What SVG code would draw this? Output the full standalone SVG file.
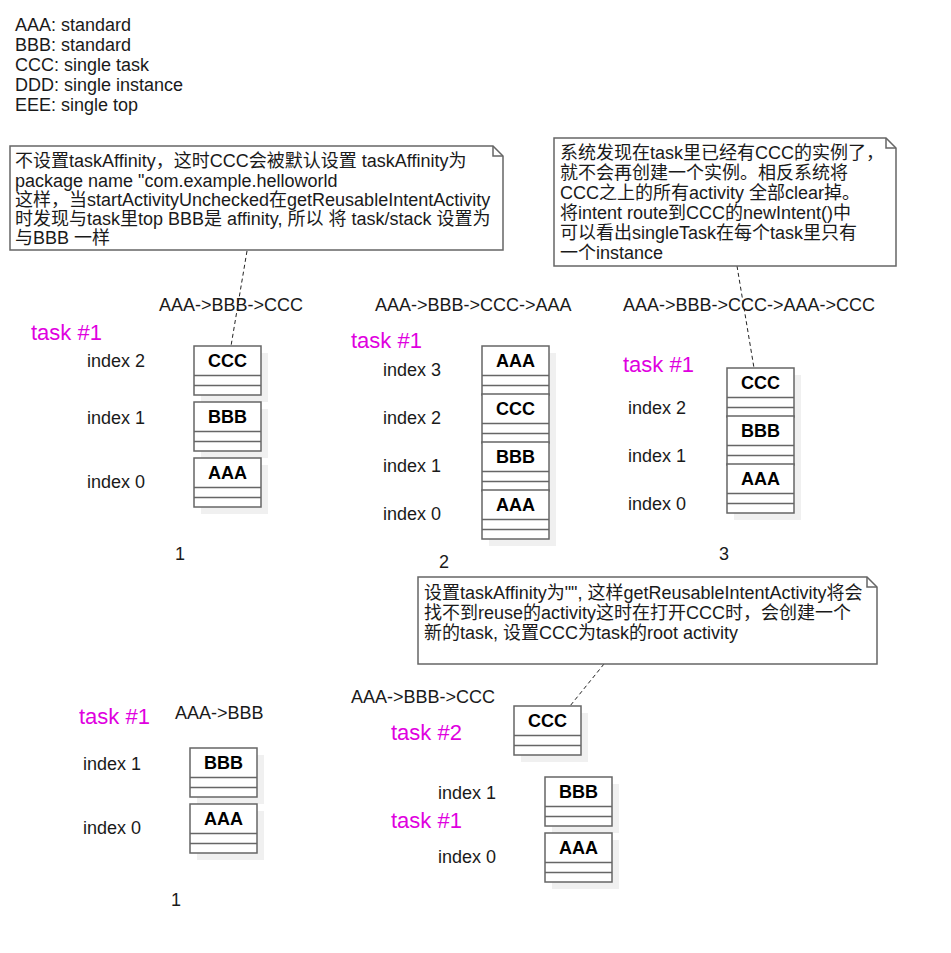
<svg xmlns="http://www.w3.org/2000/svg" width="951" height="953" viewBox="0 0 951 953">
<style>
text{font-family:"Liberation Sans",Arial,"Noto Sans CJK SC",sans-serif;font-size:18px;fill:#1a1a1a}
.task{font-size:22px;fill:#e000e0}
.name{font-weight:bold;text-anchor:middle;fill:#000}
.sh{fill:#f0f0f0;stroke:none}
.box{fill:#fff;stroke:#666;stroke-width:1.5}
.sep{stroke:#666;stroke-width:1.5;fill:none}
.note{fill:#fff;stroke:#666;stroke-width:1.5}
.link{stroke:#222;stroke-width:1;stroke-dasharray:4 3;fill:none}
</style>
<defs>
<g id="cls">
<rect class="box" x="0" y="0" width="67" height="49"/>
<path class="sep" d="M0,29.5H67M0,39.5H67"/>
</g>
</defs>
<rect width="951" height="953" fill="#fff"/>

<g id="legend">
<text x="15" y="31">AAA: standard</text>
<text x="15" y="51">BBB: standard</text>
<text x="15" y="71">CCC: single task</text>
<text x="15" y="91">DDD: single instance</text>
<text x="15" y="111">EEE: single top</text>
</g>

<g id="shadows">
<rect class="sh" x="201" y="353" width="67" height="49"/>
<rect class="sh" x="201" y="409" width="67" height="49"/>
<rect class="sh" x="201" y="465" width="67" height="49"/>
<rect class="sh" x="489" y="353" width="67" height="193"/>
<rect class="sh" x="734" y="375" width="67" height="145"/>
<rect class="sh" x="197" y="755" width="67" height="49"/>
<rect class="sh" x="197" y="811" width="67" height="49"/>
<rect class="sh" x="521" y="713" width="67" height="49"/>
<rect class="sh" x="552" y="784" width="67" height="49"/>
<rect class="sh" x="552" y="840" width="67" height="49"/>
</g>

<g id="connectors">
<path class="link" d="M247,251L231,346"/>
<path class="link" d="M737,266L754,368"/>
<path class="link" d="M604,664L570,706"/>
</g>

<g id="note1">
<path class="note" d="M10,146H493L503,156V250H10Z"/>
<path class="sep" d="M493,146V156H503"/>
<text x="15" y="167">不设置taskAffinity，这时CCC会被默认设置 taskAffinity为</text>
<text x="15" y="187">package name "com.example.helloworld</text>
<text x="15" y="206">这样，当startActivityUnchecked在getReusableIntentActivity</text>
<text x="15" y="225">时发现与task里top BBB是 affinity, 所以 将 task/stack 设置为</text>
<text x="15" y="244">与BBB 一样</text>
</g>

<g id="note2">
<path class="note" d="M554,138H886L896,148V266H554Z"/>
<path class="sep" d="M886,138V148H896"/>
<text x="560" y="159">系统发现在task里已经有CCC的实例了，</text>
<text x="560" y="179">就不会再创建一个实例。相反系统将</text>
<text x="560" y="199">CCC之上的所有activity 全部clear掉。</text>
<text x="560" y="219">将intent route到CCC的newIntent()中</text>
<text x="560" y="239">可以看出singleTask在每个task里只有</text>
<text x="560" y="259">一个instance</text>
</g>

<g id="note3">
<path class="note" d="M418,577H867L877,587V664H418Z"/>
<path class="sep" d="M867,577V587H877"/>
<text x="424" y="599">设置taskAffinity为"", 这样getReusableIntentActivity将会</text>
<text x="424" y="619">找不到reuse的activity这时在打开CCC时，会创建一个</text>
<text x="424" y="639">新的task, 设置CCC为task的root activity</text>
</g>

<g id="scene1">
<text x="159" y="311">AAA-&gt;BBB-&gt;CCC</text>
<text class="task" x="31" y="340">task #1</text>
<text x="87" y="367">index 2</text>
<text x="87" y="424">index 1</text>
<text x="87" y="488">index 0</text>
<text x="175" y="560">1</text>
</g>
<g id="s1-ccc"><use href="#cls" x="194" y="346"/><text class="name" x="227.5" y="367">CCC</text></g>
<g id="s1-bbb"><use href="#cls" x="194" y="402"/><text class="name" x="227.5" y="423">BBB</text></g>
<g id="s1-aaa"><use href="#cls" x="194" y="458"/><text class="name" x="227.5" y="479">AAA</text></g>

<g id="scene2">
<text x="375" y="311">AAA-&gt;BBB-&gt;CCC-&gt;AAA</text>
<text class="task" x="351" y="348">task #1</text>
<text x="383" y="376">index 3</text>
<text x="383" y="424">index 2</text>
<text x="383" y="472">index 1</text>
<text x="383" y="520">index 0</text>
<text x="439" y="568">2</text>
</g>
<g id="s2-aaa3"><use href="#cls" x="482" y="346"/><text class="name" x="515.5" y="367">AAA</text></g>
<g id="s2-ccc"><use href="#cls" x="482" y="394"/><text class="name" x="515.5" y="415">CCC</text></g>
<g id="s2-bbb"><use href="#cls" x="482" y="442"/><text class="name" x="515.5" y="463">BBB</text></g>
<g id="s2-aaa0"><use href="#cls" x="482" y="490"/><text class="name" x="515.5" y="511">AAA</text></g>

<g id="scene3">
<text x="623" y="311">AAA-&gt;BBB-&gt;CCC-&gt;AAA-&gt;CCC</text>
<text class="task" x="623" y="372">task #1</text>
<text x="628" y="414">index 2</text>
<text x="628" y="462">index 1</text>
<text x="628" y="510">index 0</text>
<text x="719" y="560">3</text>
</g>
<g id="s3-ccc"><use href="#cls" x="727" y="368"/><text class="name" x="760.5" y="389">CCC</text></g>
<g id="s3-bbb"><use href="#cls" x="727" y="416"/><text class="name" x="760.5" y="437">BBB</text></g>
<g id="s3-aaa"><use href="#cls" x="727" y="464"/><text class="name" x="760.5" y="485">AAA</text></g>

<g id="scene4">
<text x="175" y="719">AAA-&gt;BBB</text>
<text class="task" x="79" y="724">task #1</text>
<text x="83" y="770">index 1</text>
<text x="83" y="834">index 0</text>
<text x="171" y="906">1</text>
</g>
<g id="s4-bbb"><use href="#cls" x="190" y="748"/><text class="name" x="223.5" y="769">BBB</text></g>
<g id="s4-aaa"><use href="#cls" x="190" y="804"/><text class="name" x="223.5" y="825">AAA</text></g>

<g id="scene5">
<text x="351" y="703">AAA-&gt;BBB-&gt;CCC</text>
<text class="task" x="391" y="740">task #2</text>
<text class="task" x="391" y="828">task #1</text>
<text x="438" y="799">index 1</text>
<text x="438" y="863">index 0</text>
</g>
<g id="s5-ccc"><use href="#cls" x="514" y="706"/><text class="name" x="547.5" y="727">CCC</text></g>
<g id="s5-bbb"><use href="#cls" x="545" y="777"/><text class="name" x="578.5" y="798">BBB</text></g>
<g id="s5-aaa"><use href="#cls" x="545" y="833"/><text class="name" x="578.5" y="854">AAA</text></g>
</svg>
